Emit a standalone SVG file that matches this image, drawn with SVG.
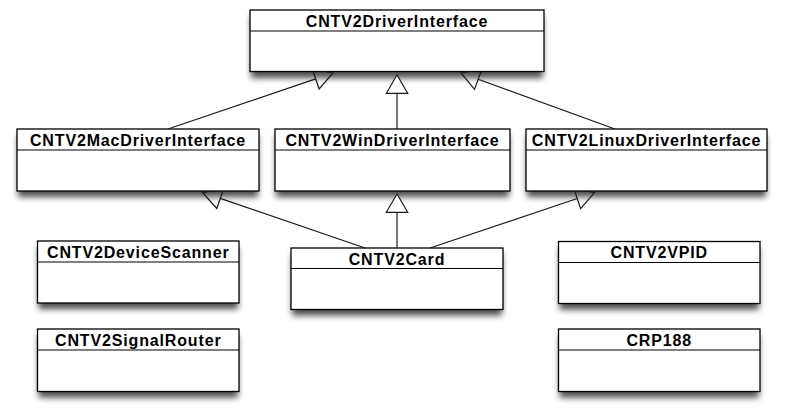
<svg xmlns="http://www.w3.org/2000/svg" width="800" height="414" viewBox="0 0 800 414">
  <style>
    .box { fill: #ffffff; stroke: #000000; stroke-width: 1.3; }
    .div { stroke: #000000; stroke-width: 1.2; fill: none; }
    .title { font-family: "Liberation Sans", Arial, sans-serif; font-weight: bold; font-size: 16px; letter-spacing: 0.85px; text-anchor: middle; fill: #000000; }
    .line { stroke: #1a1a1a; stroke-width: 1.2; fill: none; }
    .head { stroke: #1a1a1a; stroke-width: 1.2; fill: #ffffff; stroke-linejoin: miter; }
    .head-open { stroke: #1a1a1a; stroke-width: 1.2; fill: none; stroke-linejoin: miter; }
    .shadow { fill: #000000; opacity: 0.7; filter: url(#blur); }
  </style>
  <defs>
    <filter id="blur" x="-10%" y="-30%" width="120%" height="180%">
      <feGaussianBlur stdDeviation="3.4"/>
    </filter>
    <mask id="hideBoxes" maskUnits="userSpaceOnUse" x="0" y="0" width="800" height="414">
      <rect x="0" y="0" width="800" height="414" fill="#ffffff"/>
      <rect x="250" y="10" width="294" height="61.5" fill="#000000"/>
      <rect x="17" y="129" width="242" height="62" fill="#000000"/>
      <rect x="526" y="129" width="241" height="62" fill="#000000"/>
    </mask>
  </defs>
  <rect x="0" y="0" width="800" height="414" fill="#ffffff"/>

  <g id="CNTV2DriverInterface">
    <rect class="shadow" x="251" y="16" width="292" height="62"/>
    <rect class="box" x="250" y="10" width="294" height="61.5"/>
    <line class="div" x1="250" y1="31" x2="544" y2="31"/>
    <text class="title" x="397" y="26.5">CNTV2DriverInterface</text>
  </g>
  <g id="CNTV2MacDriverInterface">
    <rect class="shadow" x="18" y="135" width="240" height="62"/>
    <rect class="box" x="17" y="129" width="242" height="62"/>
    <line class="div" x1="17" y1="150" x2="259" y2="150"/>
    <text class="title" x="138" y="145.5">CNTV2MacDriverInterface</text>
  </g>
  <g id="CNTV2WinDriverInterface">
    <rect class="shadow" x="276" y="135" width="233" height="62"/>
    <rect class="box" x="275" y="129" width="235" height="62"/>
    <line class="div" x1="275" y1="150" x2="510" y2="150"/>
    <text class="title" x="392.5" y="145.5">CNTV2WinDriverInterface</text>
  </g>
  <g id="CNTV2LinuxDriverInterface">
    <rect class="shadow" x="527" y="135" width="239" height="62"/>
    <rect class="box" x="526" y="129" width="241" height="62"/>
    <line class="div" x1="526" y1="150" x2="767" y2="150"/>
    <text class="title" x="646.5" y="145.5">CNTV2LinuxDriverInterface</text>
  </g>
  <g id="CNTV2DeviceScanner">
    <rect class="shadow" x="38.5" y="247" width="199.5" height="62"/>
    <rect class="box" x="37.5" y="241" width="201.5" height="62"/>
    <line class="div" x1="37.5" y1="262" x2="239" y2="262"/>
    <text class="title" x="138.25" y="257.5">CNTV2DeviceScanner</text>
  </g>
  <g id="CNTV2Card">
    <rect class="shadow" x="292" y="254" width="210" height="61.5"/>
    <rect class="box" x="291" y="248" width="212" height="61.5"/>
    <line class="div" x1="291" y1="268.5" x2="503" y2="268.5"/>
    <text class="title" x="397" y="264.5">CNTV2Card</text>
  </g>
  <g id="CNTV2VPID">
    <rect class="shadow" x="559.5" y="247.5" width="199.5" height="62"/>
    <rect class="box" x="558.5" y="241.5" width="201.5" height="62"/>
    <line class="div" x1="558.5" y1="262.5" x2="760" y2="262.5"/>
    <text class="title" x="659.25" y="258">CNTV2VPID</text>
  </g>
  <g id="CNTV2SignalRouter">
    <rect class="shadow" x="38.5" y="335" width="199.5" height="62.5"/>
    <rect class="box" x="37.5" y="329" width="201.5" height="62.5"/>
    <line class="div" x1="37.5" y1="350" x2="239" y2="350"/>
    <text class="title" x="138.25" y="345.5">CNTV2SignalRouter</text>
  </g>
  <g id="CRP188">
    <rect class="shadow" x="559.5" y="335" width="199.5" height="62.5"/>
    <rect class="box" x="558.5" y="329" width="201.5" height="62.5"/>
    <line class="div" x1="558.5" y1="350" x2="760" y2="350"/>
    <text class="title" x="659.25" y="345.5">CRP188</text>
  </g>

  <g id="connectors" mask="url(#hideBoxes)">
    <line class="line" x1="168" y1="129" x2="315.7" y2="78.9"/>
    <polygon class="head-open" points="333,73 312.3,68.8 319.1,89"/>
    <line class="line" x1="397" y1="129" x2="397" y2="93.3"/>
    <polygon class="head" points="397,75 386.3,93.3 407.7,93.3"/>
    <line class="line" x1="615" y1="129" x2="478.2" y2="79.3"/>
    <polygon class="head-open" points="461,73 481.9,69.2 474.5,89.4"/>
    <line class="line" x1="365" y1="248" x2="220.3" y2="198.4"/>
    <polygon class="head-open" points="202.7,192.7 223.8,188.3 216.8,208.5"/>
    <line class="line" x1="397" y1="248" x2="397" y2="212.3"/>
    <polygon class="head" points="397,194 386.3,212.3 407.7,212.3"/>
    <line class="line" x1="430" y1="248" x2="577.2" y2="198.5"/>
    <polygon class="head-open" points="594.5,192.7 580.6,208.6 573.8,188.4"/>
  </g>
</svg>
